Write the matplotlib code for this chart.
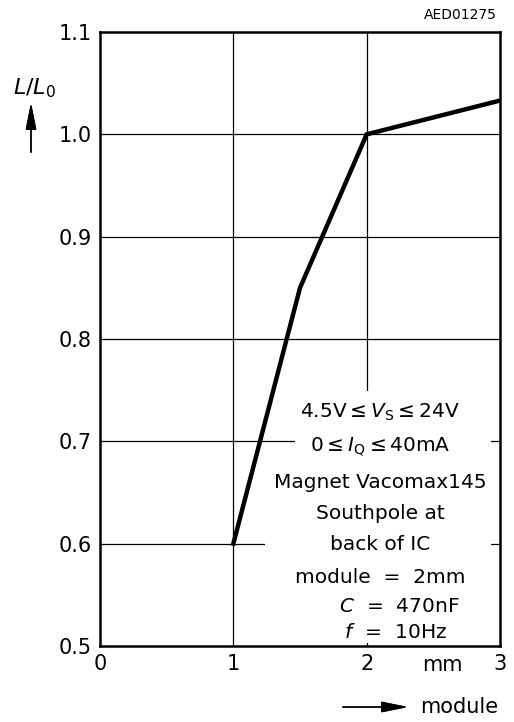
import matplotlib
matplotlib.use("Agg")
import matplotlib.pyplot as plt
from matplotlib.patches import Rectangle

FONT = "DejaVu Sans"
plt.rcParams["font.family"] = [FONT]
plt.rcParams["mathtext.fontset"] = "dejavusans"

module_mm = [1.0, 1.5, 2.0, 3.0]
l_ratio = [0.60, 0.85, 1.00, 1.033]
x_ticks = [0, 1, 2, 3]
y_ticks = [0.5, 0.6, 0.7, 0.8, 0.9, 1.0, 1.1]
y_tick_labels = ["0.5", "0.6", "0.7", "0.8", "0.9", "1.0", "1.1"]
conditions = [
    r"4.5V$\leq$$\mathit{V}_{\mathrm{S}}$$\leq$24V",
    r"0$\leq$$\mathit{I}_{\mathrm{Q}}$$\leq$40mA",
    "Magnet Vacomax145",
    "Southpole at",
    "back of IC",
    "module  =  2mm",
    r"      $\mathit{C}$  =  470nF",
    r"     $\mathit{f}$  =  10Hz",
]

fig = plt.figure(figsize=(5.14, 7.22), dpi=100)
ax = fig.add_axes([0.1946, 0.1053, 0.7782, 0.8504])
ax.set_xlim(0, 3)
ax.set_ylim(0.5, 1.1)

for x in x_ticks[1:-1]:
    ax.axvline(x, color="black", lw=0.9, zorder=1)
for y in y_ticks[1:-1]:
    ax.axhline(y, color="black", lw=0.9, zorder=1)

# white blanking behind the text block
ax.add_patch(Rectangle((1.46, 0.677), 1.47, 0.072, facecolor="white", edgecolor="none", zorder=2))
ax.add_patch(Rectangle((1.24, 0.503), 1.69, 0.175, facecolor="white", edgecolor="none", zorder=2))

ax.plot(module_mm, l_ratio, color="black", lw=3.2, zorder=3, solid_joinstyle="miter")

for s in ax.spines.values():
    s.set_linewidth(1.8)
    s.set_zorder(5)

ax.set_xticks(x_ticks)
ax.set_xticklabels([str(v) for v in x_ticks])
ax.set_yticks(y_ticks)
ax.set_yticklabels(y_tick_labels)
ax.tick_params(length=0, labelsize=15, pad=6)

ys = [0.7287, 0.6944, 0.6602, 0.6290, 0.5987, 0.5674, 0.5381, 0.5127]
for t, y in zip(conditions, ys):
    ax.text(2.10, y, t, ha="center", va="center", fontsize=14.5, zorder=4)

fig.text(422 / 514, 1 - 665 / 722, "mm", ha="left", va="center", fontsize=15)
fig.text(497 / 514, 1 - 15 / 722, "AED01275", ha="right", va="center", fontsize=10)

fig.text(35 / 514, 1 - 88 / 722, r"$\mathit{L}$/$\mathit{L}_{\mathrm{0}}$", ha="center", va="center", fontsize=16)
arrow_style = dict(arrowstyle="-|>,head_length=1.1,head_width=0.22", color="black", lw=1, mutation_scale=15)
fig.add_artist(plt.annotate("", xy=(31 / 514, 1 - 100 / 722), xytext=(31 / 514, 1 - 155 / 722),
                            xycoords="figure fraction", textcoords="figure fraction",
                            arrowprops=arrow_style))
fig.text(420 / 514, 1 - 707 / 722, "module", ha="left", va="center", fontsize=15)
fig.add_artist(plt.annotate("", xy=(411 / 514, 1 - 707 / 722), xytext=(340 / 514, 1 - 707 / 722),
                            xycoords="figure fraction", textcoords="figure fraction",
                            arrowprops=arrow_style))

fig.savefig("out.png", dpi=100)
